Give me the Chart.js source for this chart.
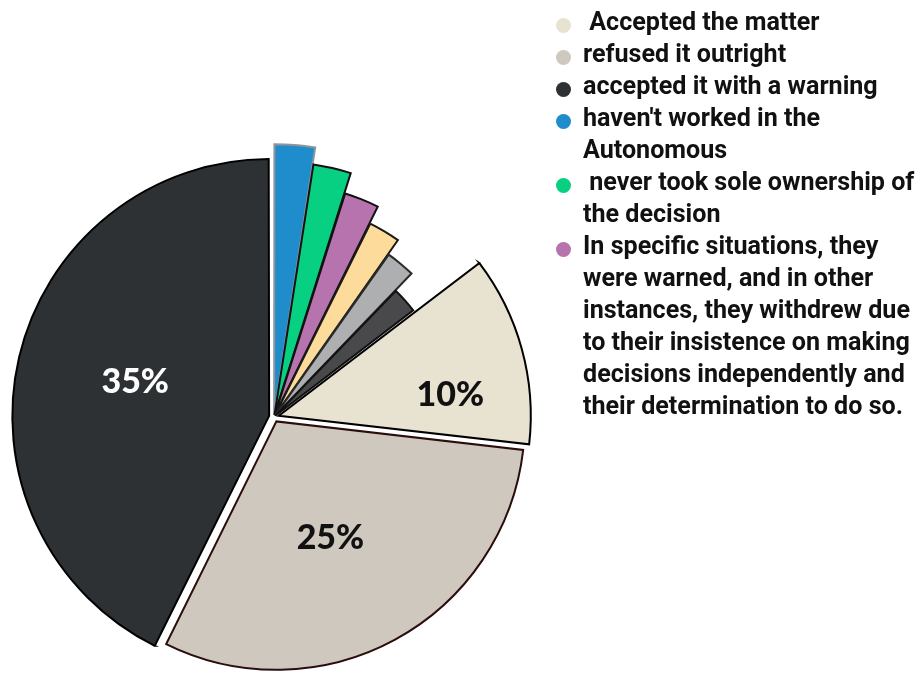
<!DOCTYPE html>
<html>
<head>
<meta charset="utf-8">
<title>Responses</title>
<script src="https://cdn.jsdelivr.net/npm/chart.js@4.4.0/dist/chart.umd.min.js"></script>
<style>
  html, body { margin: 0; padding: 0; background: #ffffff; overflow: hidden; }
  #stage { position: relative; width: 918px; height: 673px; }
  #pie { position: absolute; left: 0; top: 0; }
  #legend {
    position: absolute; left: 556px; top: 6px; width: 362px;
    font-family: Roboto, "Noto Sans", sans-serif; font-weight: 700;
    font-size: 25.1px; line-height: 32px; color: #111111;
  }
  .entry { position: relative; padding-left: 27px; }
  .entry .dot { position: absolute; left: 0; top: 12px; width: 15px; height: 15px; border-radius: 50%; }
  .entry .line { white-space: pre; }
</style>
</head>
<body>
<div id="stage">
  <canvas id="pie" width="918" height="673"></canvas>
  <div id="legend"></div>
</div>
<script>
// Answer categories (multi-line where the legend wraps them)
const categories = [
  [' Accepted the matter'],
  ['refused it outright'],
  ['accepted it with a warning'],
  ["haven't worked in the", 'Autonomous'],
  [' never took sole ownership of', 'the decision'],
  ['In specific situations, they', 'were warned, and in other', 'instances, they withdrew due',
   'to their insistence on making', 'decisions independently and', 'their determination to do so.'],
  [''],
  [''],
  ['']
];

// Share of respondents per category
const shares = [10, 25, 35, 2, 2, 2, 2, 2, 2];

// Slice fills and outlines
const sliceColors  = ['#e8e2d1', '#cfc8be', '#2d3134', '#1f8ccc', '#08d083', '#b673ae', '#fddc9b', '#aeafb1', '#49494b'];
const sliceBorders = ['#000000', '#2a0d0d', '#000000', '#8e959c', '#111111', '#111111', '#1a1a1a', '#2a2a2a', '#111111'];
const sliceOffsets = [20, 20, 20, 8, 8, 8, 8, 8, 8];

// Each slice's outer reach, relative to the pie radius
const sliceReach = [0.986, 0.977, 1.0, 1.059, 0.992, 0.909, 0.836, 0.768, 0.676];

// Percentage label placement: [fraction along the arc, fraction of the radius]
const labelPlacement = [[0.68, 0.71], [0.53, 0.533], [0.51, 0.565], null, null, null, null, null, null];
const labelInk = ['#111111', '#111111', '#ffffff'];

// Start so that the three main answers run clockwise and close at 12 o'clock
const total = shares.reduce((a, b) => a + b, 0);
const mainShare = shares[0] + shares[1] + shares[2];
const startRotation = 360 * (total - mainShare) / total;

const reachPlugin = {
  id: 'sliceReach',
  beforeDatasetsDraw(chart) {
    const meta = chart.getDatasetMeta(0);
    const base = meta.controller.outerRadius;
    meta.data.forEach((arc, i) => { arc.outerRadius = base * sliceReach[i]; });
  }
};

const percentPlugin = {
  id: 'percentLabels',
  afterDatasetsDraw(chart) {
    const meta = chart.getDatasetMeta(0);
    const ctx = chart.ctx;
    const size = 34;
    ctx.save();
    ctx.font = '900 ' + size + 'px Lato, "Noto Sans", sans-serif';
    ctx.textAlign = 'center';
    ctx.textBaseline = 'alphabetic';
    meta.data.forEach((arc, i) => {
      const place = labelPlacement[i];
      if (!place) return;
      const a = arc.startAngle + (arc.endAngle - arc.startAngle) * place[0];
      const r = arc.outerRadius * place[1];
      ctx.fillStyle = labelInk[i];
      ctx.fillText(shares[i] + '%', arc.x + Math.cos(a) * r, arc.y + Math.sin(a) * r + size * 0.36);
    });
    ctx.restore();
  }
};

new Chart(document.getElementById('pie'), {
  type: 'pie',
  data: {
    labels: categories,
    datasets: [{
      data: shares,
      backgroundColor: sliceColors,
      borderColor: sliceBorders,
      borderWidth: 2,
      borderJoinStyle: 'miter',
      offset: sliceOffsets,
      clip: false
    }]
  },
  options: {
    responsive: false,
    animation: false,
    devicePixelRatio: 1,
    rotation: startRotation,
    radius: 254,
    layout: { padding: { left: 0, right: 370, top: 161, bottom: 0 } },
    plugins: {
      legend: { display: false },
      tooltip: { enabled: false }
    }
  },
  plugins: [reachPlugin, percentPlugin]
});

// Legend listing the named answers
const legend = document.getElementById('legend');
categories.forEach((lines, i) => {
  if (!lines.join('').trim()) return;
  const entry = document.createElement('div');
  entry.className = 'entry';
  const dot = document.createElement('span');
  dot.className = 'dot';
  dot.style.background = sliceColors[i];
  entry.appendChild(dot);
  lines.forEach(t => {
    const line = document.createElement('div');
    line.className = 'line';
    line.textContent = t;
    entry.appendChild(line);
  });
  legend.appendChild(entry);
});
</script>
</body>
</html>
